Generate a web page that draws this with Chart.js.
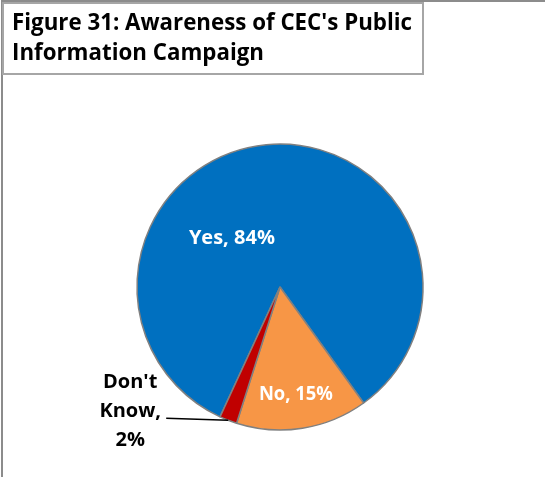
<!DOCTYPE html>
<html>
<head>
<meta charset="utf-8">
<script src="https://cdn.jsdelivr.net/npm/chart.js@4/dist/chart.umd.min.js"></script>
<style>
  html, body { margin: 0; padding: 0; background: #ffffff; }
  #wrap { position: relative; width: 545px; height: 477px; }
</style>
</head>
<body>
<div id="wrap"><canvas id="chart" width="545" height="477"></canvas></div>
<script>
// Survey answers and their shares (percent)
const categories = ['Yes', 'No', "Don't Know"];
const shares = [84, 15, 2];
const titleLines = ['Figure 31: Awareness of CEC\'s Public', 'Information Campaign'];

const sliceColors = ['#0070C0', '#F79646', '#C00000'];
const FONT = '"Open Sans", "Liberation Sans", sans-serif';

// Frame of the chart and the boxed title in the upper left corner
const framePlugin = {
  id: 'frame',
  afterDraw(chart) {
    const ctx = chart.ctx;
    ctx.save();
    ctx.strokeStyle = '#8c8c8c';
    ctx.lineWidth = 2;
    ctx.strokeRect(2, 1, 700, 700);

    ctx.fillStyle = '#ffffff';
    ctx.fillRect(3, 3, 420, 71);
    ctx.strokeStyle = '#a6a6a6';
    ctx.lineWidth = 2;
    ctx.strokeRect(3, 3, 420, 71);

    ctx.fillStyle = '#000000';
    ctx.font = 'bold 22.5px ' + FONT;
    ctx.textAlign = 'left';
    ctx.textBaseline = 'alphabetic';
    const w0 = ctx.measureText(titleLines[0]).width;
    const squeeze = Math.min(1, 400 / w0);
    ctx.fillText(titleLines[0], 12, 30, w0 * squeeze);
    ctx.fillText(titleLines[1], 12, 60, ctx.measureText(titleLines[1]).width * squeeze);
    ctx.restore();
  }
};

// Data labels: two inside the pie, the small slice labelled outside with a leader line
const labelPlugin = {
  id: 'sliceLabels',
  afterDatasetsDraw(chart) {
    const ctx = chart.ctx;
    const arcs = chart.getDatasetMeta(0).data;
    ctx.save();
    ctx.font = 'bold 20px ' + FONT;
    ctx.textAlign = 'center';
    ctx.textBaseline = 'alphabetic';

    const polar = (arc, angle, frac) => {
      return {
        x: arc.x + Math.cos(angle) * arc.outerRadius * frac,
        y: arc.y + Math.sin(angle) * arc.outerRadius * frac
      };
    };
    const mid = arc => (arc.startAngle + arc.endAngle) / 2;

    // Yes
    {
      const arc = arcs[0];
      const p = polar(arc, mid(arc) - 39 * Math.PI / 180, 0.48);
      ctx.fillStyle = '#ffffff';
      ctx.fillText(categories[0] + ', ' + shares[0] + '%', p.x, p.y + 6, 88);
    }
    // No
    {
      const arc = arcs[1];
      const p = polar(arc, mid(arc), 0.75);
      ctx.fillStyle = '#ffffff';
      ctx.fillText(categories[1] + ', ' + shares[1] + '%', p.x - 1, p.y + 7, 74);
    }
    // Don't Know
    {
      const arc = arcs[2];
      const edge = polar(arc, mid(arc), 1.0);
      const start = { x: edge.x - 62, y: edge.y - 2 };
      ctx.strokeStyle = '#000000';
      ctx.lineWidth = 1.6;
      ctx.beginPath();
      ctx.moveTo(start.x, start.y);
      ctx.lineTo(edge.x, edge.y);
      ctx.stroke();

      const words = categories[2].split(' ');
      const lines = [words[0], words.slice(1).join(' ') + ',', shares[2] + '%'];
      const cx = start.x - 36;
      ctx.fillStyle = '#000000';
      lines.forEach((t, i) => ctx.fillText(t, cx, start.y + (i - 1) * 29 - 1));
    }
    ctx.restore();
  }
};

new Chart(document.getElementById('chart'), {
  type: 'pie',
  data: {
    labels: categories,
    datasets: [{
      data: shares,
      backgroundColor: sliceColors,
      borderColor: '#808080',
      borderWidth: 1.5,
      radius: 143
    }]
  },
  options: {
    responsive: false,
    animation: false,
    rotation: 204.8,
    layout: { padding: { left: 137, right: 122, top: 144, bottom: 47 } },
    plugins: {
      legend: { display: false },
      tooltip: { enabled: false },
      title: { display: false }
    }
  },
  plugins: [framePlugin, labelPlugin]
});
</script>
</body>
</html>
